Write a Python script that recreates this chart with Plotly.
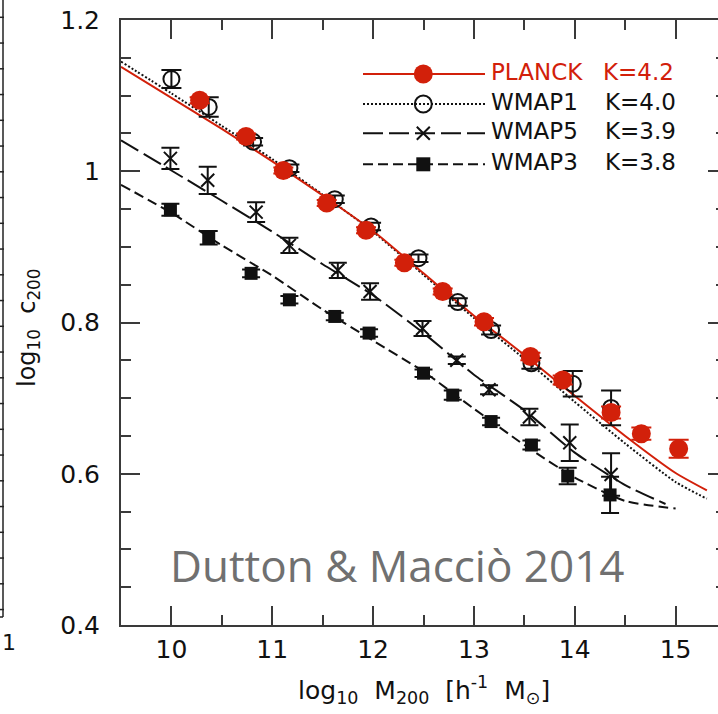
import plotly.graph_objects as go

# ---------------- data ----------------
planck_x = [10.28, 10.74, 11.11, 11.54, 11.93, 12.31, 12.69, 13.10, 13.56, 13.88, 14.36, 14.66, 15.03]
planck_y = [1.094, 1.046, 1.001, 0.958, 0.922, 0.879, 0.841, 0.801, 0.755, 0.724, 0.681, 0.653, 0.633]
planck_err = [0.004, 0.004, 0.004, 0.004, 0.004, 0.004, 0.004, 0.005, 0.005, 0.006, 0.008, 0.008, 0.012]

wmap1_x = [10.00, 10.37, 10.81, 11.17, 11.62, 11.98, 12.45, 12.84, 13.17, 13.57, 13.98, 14.36]
wmap1_y = [1.122, 1.085, 1.039, 1.004, 0.963, 0.927, 0.885, 0.827, 0.790, 0.746, 0.719, 0.687]
wmap1_err = [0.012, 0.013, 0.005, 0.005, 0.005, 0.005, 0.005, 0.005, 0.006, 0.007, 0.017, 0.023]

wmap5_x = [9.99, 10.36, 10.84, 11.17, 11.65, 11.97, 12.49, 12.83, 13.15, 13.55, 13.95, 14.36]
wmap5_y = [1.017, 0.988, 0.946, 0.902, 0.869, 0.841, 0.792, 0.750, 0.711, 0.675, 0.641, 0.599]
wmap5_err = [0.014, 0.018, 0.013, 0.010, 0.010, 0.011, 0.010, 0.005, 0.006, 0.011, 0.024, 0.028]

wmap3_x = [9.99, 10.37, 10.79, 11.17, 11.62, 11.96, 12.50, 12.79, 13.17, 13.57, 13.93, 14.35]
wmap3_y = [0.949, 0.912, 0.865, 0.830, 0.808, 0.786, 0.733, 0.704, 0.669, 0.638, 0.597, 0.572]
wmap3_err = [0.008, 0.009, 0.005, 0.005, 0.005, 0.005, 0.005, 0.006, 0.005, 0.006, 0.011, 0.024]

# model curves
planck_line_x = [9.5, 10.0, 10.5, 11.0, 11.5, 12.0, 12.5, 13.0, 13.5, 14.0, 14.5, 15.0, 15.31]
planck_line_y = [1.138, 1.097, 1.056, 1.013, 0.968, 0.921, 0.865, 0.809, 0.757, 0.703, 0.650, 0.601, 0.578]
wmap1_line_x = [9.5, 10.0, 10.5, 11.0, 11.5, 12.0, 12.5, 13.0, 13.5, 14.0, 14.5, 15.0, 15.31]
wmap1_line_y = [1.145, 1.103, 1.060, 1.016, 0.969, 0.920, 0.863, 0.806, 0.752, 0.695, 0.640, 0.589, 0.567]
wmap5_line_x = [9.5, 10.0, 10.5, 11.0, 11.5, 12.0, 12.5, 13.0, 13.5, 14.0, 14.5, 14.9]
wmap5_line_y = [1.041, 1.001, 0.961, 0.920, 0.877, 0.836, 0.786, 0.731, 0.684, 0.628, 0.585, 0.560]
wmap3_line_x = [9.5, 10.0, 10.5, 11.0, 11.5, 12.0, 12.5, 13.0, 13.5, 14.0, 14.5, 15.0]
wmap3_line_y = [0.982, 0.945, 0.902, 0.862, 0.817, 0.776, 0.735, 0.686, 0.638, 0.595, 0.564, 0.554]

x_ticks = [10, 11, 12, 13, 14, 15]
y_ticks = [0.4, 0.6, 0.8, 1.0, 1.2]
y_tick_text = ["0.4", "0.6", "0.8", "1", "1.2"]

legend_names = ["PLANCK", "WMAP1", "WMAP5", "WMAP3"]
legend_k = ["K=4.2", "K=4.0", "K=3.9", "K=3.8"]

# ---------------- styles ----------------
RED = "#d2200a"
INK = "#111111"
AX = "#3a3a3a"
FONT = "DejaVu Sans"

W, H = 718, 714
ML, MR, MT, MB = 121, 0, 20, 89
PW = W - ML - MR
PH = H - MT - MB


def px_x(p):
    return (p - ML) / PW


def px_y(p):
    return (H - MB - p) / PH


fig = go.Figure()

line_specs = [
    (wmap3_line_x, wmap3_line_y, INK, "10px,5px"),
    (wmap5_line_x, wmap5_line_y, INK, "20px,6px"),
    (wmap1_line_x, wmap1_line_y, INK, "2px,2px"),
    (planck_line_x, planck_line_y, RED, "solid"),
]
for lx, ly, c, d in line_specs:
    fig.add_trace(go.Scatter(x=lx, y=ly, mode="lines",
                             line=dict(color=c, dash=d, width=2, shape="spline", smoothing=0.6),
                             hoverinfo="skip", showlegend=False))

fig.add_trace(go.Scatter(x=wmap3_x, y=wmap3_y, mode="markers",
                         marker=dict(symbol="square", size=13, color=INK, line=dict(width=0)),
                         error_y=dict(type="data", array=wmap3_err, color=INK, thickness=2, width=9),
                         showlegend=False))
fig.add_trace(go.Scatter(x=wmap5_x, y=wmap5_y, mode="markers",
                         marker=dict(symbol="x-thin-open", size=13, color=INK, line=dict(width=2, color=INK)),
                         error_y=dict(type="data", array=wmap5_err, color=INK, thickness=2, width=9),
                         showlegend=False))
fig.add_trace(go.Scatter(x=wmap1_x, y=wmap1_y, mode="markers",
                         marker=dict(symbol="circle-open", size=16, color=INK, line=dict(width=2, color=INK)),
                         error_y=dict(type="data", array=wmap1_err, color=INK, thickness=2, width=10),
                         showlegend=False))
fig.add_trace(go.Scatter(x=planck_x, y=planck_y, mode="markers",
                         marker=dict(symbol="circle", size=19, color=RED, line=dict(width=0)),
                         error_y=dict(type="data", array=planck_err, color=RED, thickness=2, width=10),
                         showlegend=False))

# empty trace to activate right-side tick axis
fig.add_trace(go.Scatter(x=[], y=[], yaxis="y2", showlegend=False, hoverinfo="skip"))

# ---------------- custom legend (on an overlay 0..1 axis = paper) ----------------
leg_rows_px = [74, 104, 133.3, 164.3]
leg_x0, leg_x1, leg_xm = px_x(363), px_x(485), px_x(423.3)
leg_styles = [
    (RED, "solid", dict(symbol="circle", size=19, color=RED, line=dict(width=0))),
    (INK, "2px,2px", dict(symbol="circle-open", size=17, color=INK, line=dict(width=2, color=INK))),
    (INK, "20px,6px", dict(symbol="x-thin-open", size=13, color=INK, line=dict(width=2, color=INK))),
    (INK, "10px,5px", dict(symbol="square", size=14, color=INK, line=dict(width=0))),
]
for row, (c, d, mk) in zip(leg_rows_px, leg_styles):
    yy = px_y(row)
    fig.add_trace(go.Scatter(x=[leg_x0, leg_x1], y=[yy, yy], mode="lines",
                             line=dict(color=c, dash=d, width=2), xaxis="x3", yaxis="y3",
                             showlegend=False, hoverinfo="skip"))
    fig.add_trace(go.Scatter(x=[leg_xm], y=[yy], mode="markers", marker=mk,
                             xaxis="x3", yaxis="y3", showlegend=False, hoverinfo="skip"))

annotations = []
for i, (row, name, k) in enumerate(zip(leg_rows_px, legend_names, legend_k)):
    col = RED if i == 0 else INK
    annotations.append(dict(text=name, x=px_x(489), y=px_y(row - 2), xref="paper", yref="paper",
                            xanchor="left", yanchor="middle", showarrow=False,
                            font=dict(family=FONT, size=23, color=col)))
    annotations.append(dict(text=k, x=px_x(601 if i == 0 else 603), y=px_y(row - 2), xref="paper", yref="paper",
                            xanchor="left", yanchor="middle", showarrow=False,
                            font=dict(family=FONT, size=23, color=col)))

# axis titles
annotations.append(dict(text="log<sub>10</sub>\u00a0\u00a0M<sub>200</sub>\u00a0\u00a0[h<sup>-1</sup>\u00a0\u00a0M<sub>\u2299</sub>]",
                        x=px_x(424), y=px_y(690), xref="paper", yref="paper",
                        xanchor="center", yanchor="middle", showarrow=False,
                        font=dict(family=FONT, size=25, color=INK)))
annotations.append(dict(text="log<sub>10</sub>\u00a0\u00a0c<sub>200</sub>",
                        x=px_x(29), y=px_y(328), xref="paper", yref="paper", textangle=-90,
                        xanchor="center", yanchor="middle", showarrow=False,
                        font=dict(family=FONT, size=24, color=INK)))
# credit
annotations.append(dict(text="Dutton &amp; Macciò 2014", x=px_x(168), y=px_y(565), xref="paper", yref="paper",
                        xanchor="left", yanchor="middle", showarrow=False,
                        font=dict(family="Open Sans", size=44, color="#707070")))
# fragment of neighbouring panel label
annotations.append(dict(text="1", x=px_x(0), y=px_y(642), xref="paper", yref="paper",
                        xanchor="left", yanchor="middle", showarrow=False,
                        font=dict(family=FONT, size=22, color=INK)))

# neighbouring panel frame fragment (left edge)
shapes = [dict(type="line", xref="paper", yref="paper", x0=px_x(3), x1=px_x(3), y0=px_y(0), y1=px_y(617),
               line=dict(color="#222", width=1.5)),
          dict(type="line", xref="paper", yref="paper", x0=px_x(0), x1=px_x(3), y0=px_y(617), y1=px_y(617),
               line=dict(color="#222", width=1.5))]
t = 17.3
while t < 612:
    shapes.append(dict(type="line", xref="paper", yref="paper", x0=px_x(0), x1=px_x(4), y0=px_y(t), y1=px_y(t),
                       line=dict(color="#222", width=1.5)))
    t += 25.75

fig.update_layout(
    width=W, height=H,
    margin=dict(l=ML, r=MR, t=MT, b=MB, pad=0),
    paper_bgcolor="white", plot_bgcolor="white",
    showlegend=False,
    xaxis=dict(range=[9.5, 9.5 + PW / 100.84], tickmode="array", tickvals=x_ticks,
               ticks="inside", ticklen=19, tickwidth=2, tickcolor=AX,
               showline=True, linewidth=2, linecolor=AX, mirror="ticks",
               showgrid=False, zeroline=False, ticklabelstandoff=1,
               tickfont=dict(family=FONT, size=25, color=INK),
               minor=dict(dtick=0.5, tick0=9.5, ticks="inside", ticklen=10, tickwidth=2, tickcolor=AX)),
    yaxis=dict(range=[0.4, 1.2], tickmode="array", tickvals=y_ticks, ticktext=y_tick_text,
               ticks="inside", ticklen=19, tickwidth=2, tickcolor=AX,
               showline=True, linewidth=2, linecolor=AX, mirror=False,
               showgrid=False, zeroline=False, ticklabelstandoff=14,
               tickfont=dict(family=FONT, size=25, color=INK),
               minor=dict(dtick=0.05, tick0=0.4, ticks="inside", ticklen=10, tickwidth=2, tickcolor=AX)),
    yaxis2=dict(range=[0.4, 1.2], overlaying="y", side="right", anchor="x",
                tickmode="array", tickvals=y_ticks, showticklabels=False,
                ticks="inside", ticklen=10, tickwidth=2, tickcolor=AX,
                showline=False, showgrid=False, zeroline=False,
                minor=dict(dtick=0.05, tick0=0.4, ticks="inside", ticklen=2, tickwidth=2, tickcolor=AX)),
    xaxis3=dict(range=[0, 1], overlaying="x", anchor="y3", visible=False),
    yaxis3=dict(range=[0, 1], overlaying="y", anchor="x3", visible=False),
    annotations=annotations,
    shapes=shapes,
)

fig.write_html("out.html")
